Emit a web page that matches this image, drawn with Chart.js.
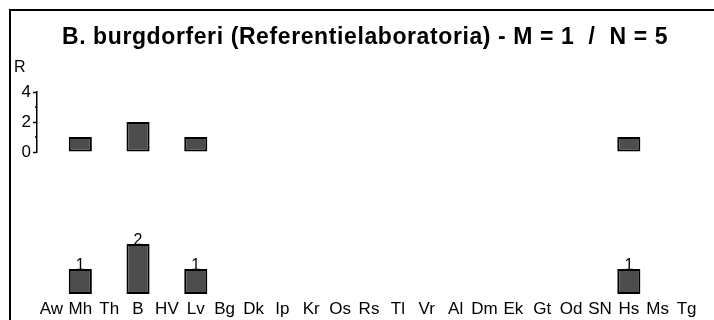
<!DOCTYPE html>
<html>
<head>
<meta charset="utf-8">
<script src="https://cdn.jsdelivr.net/npm/chart.js@4.4.0/dist/chart.umd.min.js"></script>
<style>
  html, body { margin: 0; padding: 0; background: #fff; width: 714px; height: 320px; overflow: hidden; }
  #wrap { position: relative; width: 714px; height: 320px; }
  #frame { position: absolute; left: 9px; top: 9px; width: 800px; height: 400px;
           border-top: 2px solid #000; border-left: 2px solid #000; }
  #title { position: absolute; left: 0; width: 730px; top: 25px; text-align: center;
           font: bold 23px "Liberation Sans", Arial, sans-serif; line-height: 23px;
           white-space: pre; letter-spacing: 0.6px; color: #000; }
  #row { position: absolute; left: 14px; top: 59px; color: #000;
         font: 16px "Liberation Sans", Arial, sans-serif; line-height: 16px; }
  canvas { position: absolute; left: 0; top: 0; }
</style>
</head>
<body>
<div id="wrap">
  <div id="frame"></div>
  <canvas id="c" width="714" height="320"></canvas>
  <div id="title">B. burgdorferi (Referentielaboratoria) - M = 1  /  N = 5</div>
  <div id="row">R</div>
</div>
<script>
// Laboratories along the x axis
const categories = ['Aw', 'Mh', 'Th', 'B', 'HV', 'Lv', 'Bg', 'Dk', 'Ip', 'Kr', 'Os', 'Rs',
                    'Tl', 'Vr', 'Al', 'Dm', 'Ek', 'Gt', 'Od', 'SN', 'Hs', 'Ms', 'Tg'];
// Number of isolates per laboratory (empty where none)
const counts = [null, 1, null, 2, null, 1, null, null, null, null, null, null,
                null, null, null, null, null, null, null, null, 1, null, null];
// Labelled ticks on the small "R" axis
const rowTicks = [0, 2, 4];
const rowMinorTicks = [1, 3];

const fontFamily = '"Liberation Sans", Arial, sans-serif';

const barStyle = {
  backgroundColor: '#4d4d4d',
  borderColor: '#000',
  borderWidth: 2,
  borderSkipped: false,
  barPercentage: 0.8,
  categoryPercentage: 1,
  grouped: false
};

// Count written above each bar of the main row
const valueLabels = {
  id: 'valueLabels',
  afterDatasetsDraw(chart) {
    const ctx = chart.ctx;
    const meta = chart.getDatasetMeta(0);
    const data = chart.data.datasets[0].data;
    ctx.save();
    ctx.fillStyle = '#000';
    ctx.font = '16px ' + fontFamily;
    ctx.textAlign = 'center';
    ctx.textBaseline = 'alphabetic';
    meta.data.forEach((bar, i) => {
      if (data[i] == null) return;
      ctx.fillText(String(data[i]), bar.x, bar.y + 1);
    });
    ctx.restore();
  }
};

// Short unlabelled ticks on the "R" axis
const minorTicks = {
  id: 'minorTicks',
  afterDraw(chart) {
    const s = chart.scales.yR;
    const ctx = chart.ctx;
    ctx.save();
    ctx.strokeStyle = '#000';
    ctx.lineWidth = 1.5;
    rowMinorTicks.forEach(v => {
      const y = s.getPixelForValue(v);
      ctx.beginPath();
      ctx.moveTo(s.right - 2, y);
      ctx.lineTo(s.right, y);
      ctx.stroke();
    });
    ctx.restore();
  }
};

new Chart(document.getElementById('c'), {
  type: 'bar',
  data: {
    labels: categories,
    datasets: [
      Object.assign({ label: 'N', data: counts, yAxisID: 'y' }, barStyle),
      Object.assign({ label: 'R', data: counts, yAxisID: 'yR' }, barStyle)
    ]
  },
  options: {
    responsive: false,
    animation: false,
    devicePixelRatio: 1,
    layout: { padding: { top: 92, right: 13, bottom: 0, left: 0 } },
    plugins: {
      legend: { display: false },
      tooltip: { enabled: false },
      title: { display: false }
    },
    scales: {
      x: {
        grid: { display: false, drawTicks: false },
        border: { display: false },
        ticks: {
          autoSkip: false, maxRotation: 0, minRotation: 0,
          color: '#000', font: { family: fontFamily, size: 17 }, padding: 5
        },
        afterFit(s) { s.height = 26; }
      },
      y: {
        stack: 'rows', stackWeight: 142, position: 'left',
        min: 0, max: 5.68, display: false
      },
      yR: {
        stack: 'rows', stackWeight: 60, position: 'left',
        min: 0, max: 4,
        ticks: {
          stepSize: 1, autoSkip: false, color: '#000', padding: 2,
          font: { family: fontFamily, size: 17 },
          callback: v => rowTicks.includes(v) ? String(v) : ''
        },
        grid: {
          drawOnChartArea: false, tickLength: 4, tickWidth: 1.5,
          tickColor: c => (c.tick && rowTicks.includes(c.tick.value)) ? '#000' : 'rgba(0,0,0,0)'
        },
        border: { color: '#000', width: 1.5 },
        afterFit(s) { s.width = 37; }
      }
    }
  },
  plugins: [valueLabels, minorTicks]
});
</script>
</body>
</html>
